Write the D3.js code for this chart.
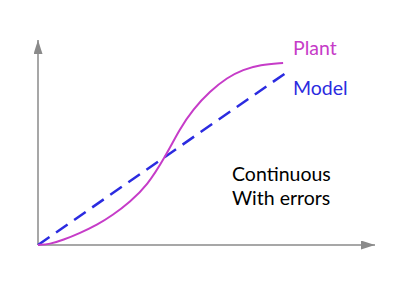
<!DOCTYPE html>
<html>
<head>
<meta charset="utf-8">
<script src="https://d3js.org/d3.v7.min.js"></script>
<style>
  body { margin: 0; background: #fff; }
  svg { display: block; }
  text { font-family: Lato, "Open Sans", sans-serif; }
</style>
</head>
<body>
<svg id="chart" width="416" height="288"></svg>
<script>
// plant response (S-curve), in chart units 0..100
const plantX = [0, 3.5, 7.4, 12.4, 17.4, 22.1, 27.1, 32.2, 37.5, 41.9, 45.7, 50.7, 55.8, 60.5, 65.5, 72.3];
const plantY = [0, 0.4, 2.4, 5.8, 9.7, 14.5, 20.8, 28.7, 42.5, 56.3, 65.5, 74.2, 80.9, 84.7, 87.1, 87.9];
// model: straight line
const modelX = [0, 73.0];
const modelY = [0, 83.0];
const labels = ["Plant", "Model"];
const note = ["Continuous", "With errors"];

const svg = d3.select("#chart");
const x = d3.scaleLinear().domain([0, 100]).range([38, 377]);
const y = d3.scaleLinear().domain([0, 100]).range([245, 38]);

const grey = "#8a8a8a";
const pink = "#c63cc8";
const blue = "#2b2be0";

svg.append("defs").append("marker")
  .attr("id", "arrow")
  .attr("viewBox", "0 0 14 9")
  .attr("preserveAspectRatio", "none")
  .attr("refX", 14).attr("refY", 4.5)
  .attr("markerWidth", 14).attr("markerHeight", 9)
  .attr("markerUnits", "userSpaceOnUse")
  .attr("orient", "auto")
  .append("path")
  .attr("d", "M0,0L14,4.5L0,9Z")
  .attr("fill", grey);

// axes
svg.append("line")
  .attr("x1", x(0)).attr("y1", y(0))
  .attr("x2", x(0)).attr("y2", y(100) + 2)
  .attr("stroke", grey).attr("stroke-width", 1.5)
  .attr("marker-end", "url(#arrow)");
svg.append("line")
  .attr("x1", x(0)).attr("y1", y(0))
  .attr("x2", x(100) - 2).attr("y2", y(0))
  .attr("stroke", grey).attr("stroke-width", 1.5)
  .attr("marker-end", "url(#arrow)");

const plant = plantX.map((v, i) => [v, plantY[i]]);
const model = modelX.map((v, i) => [v, modelY[i]]);

const line = d3.line().x(d => x(d[0])).y(d => y(d[1]));

svg.append("path").datum(model)
  .attr("d", line)
  .attr("fill", "none")
  .attr("stroke", blue)
  .attr("stroke-width", 2.5)
  .attr("stroke-dasharray", "14,8");

svg.append("path").datum(plant)
  .attr("d", line.curve(d3.curveBasis))
  .attr("fill", "none")
  .attr("stroke", pink)
  .attr("stroke-width", 2);

svg.append("text").attr("x", 293).attr("y", 55)
  .attr("fill", pink).style("font-size", "19.5px").text(labels[0]);
svg.append("text").attr("x", 293).attr("y", 95)
  .attr("fill", blue).style("font-size", "19.5px").text(labels[1]);

svg.selectAll(".note").data(note).join("text")
  .attr("class", "note")
  .attr("x", 232).attr("y", (d, i) => 181 + i * 24)
  .attr("fill", "#000").style("font-size", "19.5px")
  .text(d => d);
</script>
</body>
</html>
